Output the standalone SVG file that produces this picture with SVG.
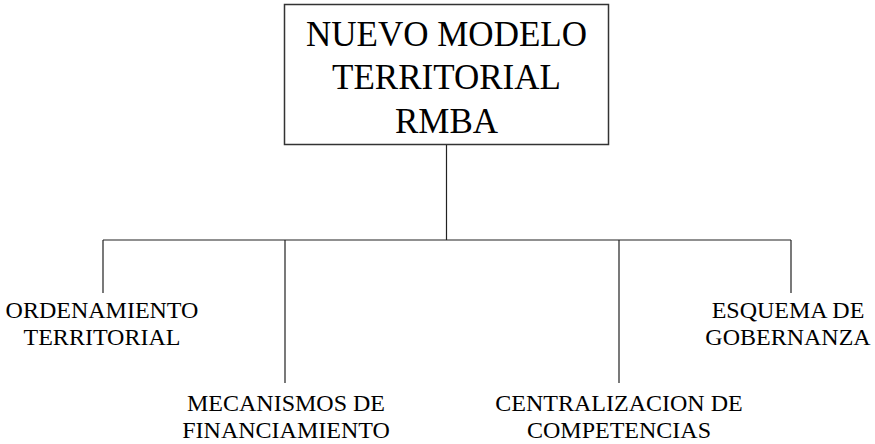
<svg xmlns="http://www.w3.org/2000/svg" width="875" height="444" viewBox="0 0 875 444">
<style>
text{fill:#000;text-anchor:middle}
.t{font-size:35px}
.s{font-size:24px}
.c{stroke:#222;stroke-width:1.2;fill:none}
</style>
<rect width="875" height="444" fill="#fff"/>
<g id="connectors">
<path class="c" d="M446.5,145V240M103,240H791M103,240V293M285,240V383M619,240V383M791,240V293"/>
</g>
<g font-family="Liberation Serif, Times New Roman, DejaVu Serif, serif">
<g id="root">
<rect x="284.5" y="4.5" width="324" height="140" fill="#fff" stroke="#333" stroke-width="1.5"/>
<text class="t" x="446.5" y="46">NUEVO MODELO</text>
<text class="t" x="446.5" y="89">TERRITORIAL</text>
<text class="t" x="446.5" y="133">RMBA</text>
</g>
<g id="ordenamiento">
<text class="s" x="102" y="318">ORDENAMIENTO</text>
<text class="s" x="102" y="345">TERRITORIAL</text>
</g>
<g id="mecanismos">
<text class="s" x="286" y="411">MECANISMOS DE</text>
<text class="s" x="286" y="438">FINANCIAMIENTO</text>
</g>
<g id="centralizacion">
<text class="s" x="619" y="411">CENTRALIZACION DE</text>
<text class="s" x="619" y="438">COMPETENCIAS</text>
</g>
<g id="esquema">
<text class="s" x="788" y="318">ESQUEMA DE</text>
<text class="s" x="788" y="345">GOBERNANZA</text>
</g>
</g>
</svg>
